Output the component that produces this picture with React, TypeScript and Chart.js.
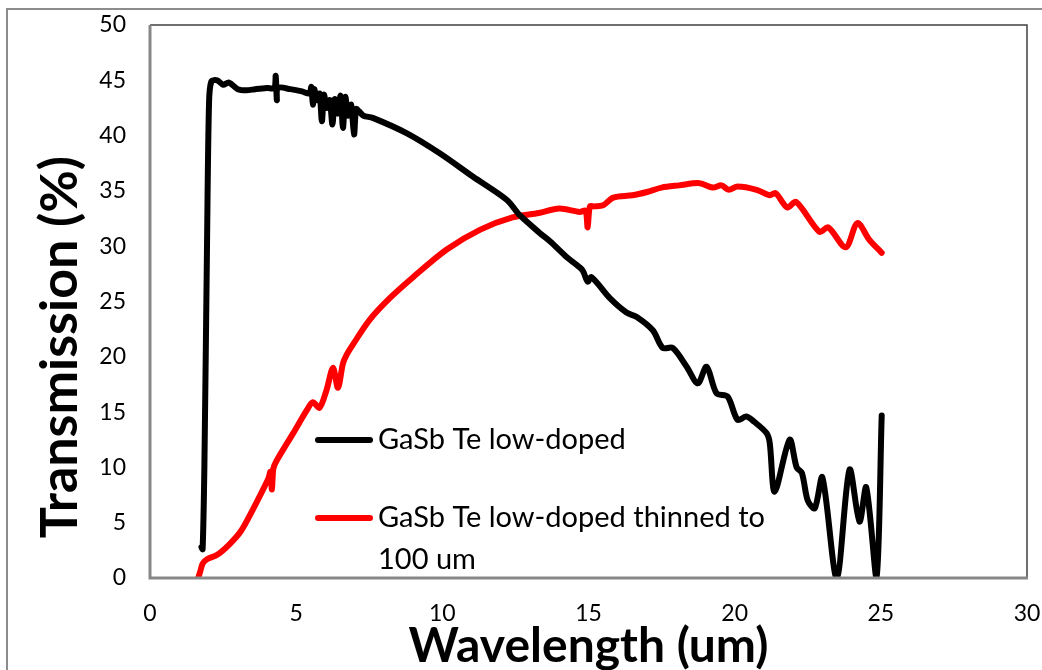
import React, { useEffect, useRef } from "react";
import { Chart, registerables } from "chart.js";

Chart.register(...registerables);

// ---- Data ----
const seriesNames = ["GaSb Te low-doped", "GaSb Te low-doped thinned to", "100 um"];

const lowDopedX = [
  1.76, 1.8, 1.86, 1.95, 2.02, 2.1, 2.3, 2.5, 2.7, 3.0, 3.3, 3.6, 4.0, 4.25, 4.3, 4.34, 4.38,
  4.8, 5.2, 5.45, 5.52, 5.57, 5.62, 5.7, 5.8, 5.88, 5.95, 6.05, 6.15, 6.24, 6.32, 6.42, 6.52,
  6.6, 6.68, 6.78, 6.88, 6.98, 7.05, 7.15, 7.3, 7.62, 8.79, 9.91, 11.04, 12.2, 12.65, 13.33,
  13.7, 14.26, 14.5, 14.8, 14.97, 15.1, 15.73, 16.3, 16.65, 17.2, 17.54, 17.88, 18.36, 18.74,
  19.04, 19.38, 19.76, 20.1, 20.4, 20.68, 21.09, 21.2, 21.37, 21.88, 22.12, 22.3, 22.5, 22.74,
  23.0, 23.49, 23.93, 24.27, 24.5, 24.85, 25.03,
];
const lowDopedY = [
  2.8, 2.6, 10, 30, 43, 44.9, 45.0, 44.6, 44.8, 44.2, 44.1, 44.2, 44.3, 44.3, 45.4, 43.2, 44.3,
  44.2, 44.0, 43.8, 44.4, 42.8, 44.2, 43.2, 43.8, 41.3, 43.7, 42.5, 43.2, 41.0, 43.3, 42.0, 43.6,
  40.7, 43.5, 41.8, 42.8, 40.1, 42.4, 42.2, 41.8, 41.6, 40.2, 38.4, 36.3, 34.2, 32.8, 31.2,
  30.4, 29.0, 28.5, 27.8, 26.8, 27.2, 25.3, 24.0, 23.6, 22.4, 20.8, 20.8, 19.1, 17.6,
  19.1, 16.7, 16.4, 14.3, 14.6, 14.1, 13.1, 12.2, 7.8, 12.5, 10.0, 9.5, 7.0, 6.3,
  9.1, 0, 9.8, 5.1, 8.2, 0, 14.7,
];

const thinnedX = [
  1.65, 1.72, 1.8, 1.95, 2.3, 2.7, 3.1, 3.5, 4.05, 4.12, 4.17, 4.22, 4.33, 4.9, 5.37, 5.57, 5.8,
  6.04, 6.26, 6.43, 6.6, 6.73, 6.94, 7.5, 8.2, 9.0, 10.15, 11.3, 12.4, 13.3, 14.0, 14.7, 14.9,
  14.97, 15.05, 15.2, 15.5, 15.85, 16.5, 17.0, 17.5, 18.1, 18.8, 19.25, 19.55, 19.8, 20.1, 20.75,
  21.2, 21.4, 21.8, 22.1, 22.9, 23.2, 23.8, 24.2, 24.6, 25.03,
];
const thinnedY = [
  0, 0.6, 1.3, 1.7, 2.1, 3.0, 4.2, 6.1, 9.0, 9.6, 8.0, 9.9, 10.6, 13.1, 15.2, 15.9, 15.4,
  17.0, 19.0, 17.2, 19.4, 20.2, 21.1, 23.3, 25.3, 27.2, 29.7, 31.5, 32.6, 33.0, 33.4, 33.1, 33.2,
  31.7, 33.6, 33.6, 33.7, 34.4, 34.6, 34.9, 35.3, 35.5, 35.7, 35.3, 35.5, 35.1, 35.4, 35.1,
  34.6, 34.8, 33.5, 34.0, 31.3, 31.7, 29.9, 32.1, 30.6, 29.4,
];

const xMin = 0, xMax = 30, xStep = 5;
const yMin = 0, yMax = 50, yStep = 5;
const xTitle = "Wavelength (um)";
const yTitle = "Transmission (%)";

const FONT = "Lato, 'Open Sans', sans-serif";

const decorPlugin = {
  id: "decor",
  beforeDraw(chart: any) {
    const ctx = chart.ctx;
    ctx.save();
    ctx.fillStyle = "#ffffff";
    ctx.fillRect(0, 0, chart.width, chart.height);
    ctx.strokeStyle = "#8c8c8c";
    ctx.lineWidth = 2;
    ctx.strokeRect(7, 9, chart.width + 20, chart.height + 20);
    ctx.restore();
  },
  afterDatasetsDraw(chart: any) {
    const ctx = chart.ctx;
    const a = chart.chartArea;
    ctx.save();
    // plot area outline
    ctx.strokeStyle = "#404040";
    ctx.lineWidth = 1.5;
    ctx.beginPath();
    ctx.moveTo(a.left, a.top);
    ctx.lineTo(a.right, a.top);
    ctx.lineTo(a.right, a.bottom);
    ctx.stroke();
    // axes
    ctx.strokeStyle = "#878787";
    ctx.lineWidth = 3;
    ctx.beginPath();
    ctx.moveTo(a.left, a.top);
    ctx.lineTo(a.left, a.bottom);
    ctx.lineTo(a.right + 1, a.bottom);
    ctx.stroke();

    // legend
    const entries = [
      { color: "#000000", y: 440, lines: [seriesNames[0]] },
      { color: "#ff0000", y: 518, lines: [seriesNames[1], seriesNames[2]] },
    ];
    ctx.font = `29px ${FONT}`;
    ctx.textBaseline = "middle";
    ctx.textAlign = "left";
    for (const e of entries) {
      ctx.strokeStyle = e.color;
      ctx.lineWidth = 6;
      ctx.lineCap = "round";
      ctx.beginPath();
      ctx.moveTo(318, e.y);
      ctx.lineTo(370, e.y);
      ctx.stroke();
      ctx.fillStyle = "#000000";
      e.lines.forEach((t, i) => ctx.fillText(t, 378, e.y + i * 42));
    }

    // axis titles
    ctx.textAlign = "center";
    ctx.font = `bold 48px ${FONT}`;
    ctx.fillText(xTitle, (a.left + a.right) / 2, 647);
    ctx.font = `bold 52px ${FONT}`;
    ctx.translate(60, 347);
    ctx.rotate(-Math.PI / 2);
    ctx.fillText(yTitle, 0, 0);
    ctx.restore();
  },
};

const noPad = (s: any) => {
  s.paddingLeft = 0;
  s.paddingRight = 0;
  s.paddingTop = 0;
  s.paddingBottom = 0;
};

export default function App() {
  const ref = useRef<HTMLCanvasElement>(null);
  useEffect(() => {
    const canvas = ref.current!;
    const chart = new Chart(canvas, {
      type: "line",
      data: {
        datasets: [
          {
            label: seriesNames[0],
            data: lowDopedX.map((x, i) => ({ x, y: lowDopedY[i] })),
            borderColor: "#000000",
            borderWidth: 6,
            pointRadius: 0,
            tension: 0.3,
            borderCapStyle: "round",
            borderJoinStyle: "round",
          },
          {
            label: seriesNames[1] + " " + seriesNames[2],
            data: thinnedX.map((x, i) => ({ x, y: thinnedY[i] })),
            borderColor: "#ff0000",
            borderWidth: 6,
            pointRadius: 0,
            tension: 0.3,
            borderCapStyle: "round",
            borderJoinStyle: "round",
          },
        ],
      },
      options: {
        animation: false,
        responsive: false,
        layout: { padding: { left: 0, top: 25, right: 15, bottom: 0 } },
        plugins: { legend: { display: false }, tooltip: { enabled: false } },
        scales: {
          x: {
            type: "linear",
            min: xMin,
            max: xMax,
            ticks: { stepSize: xStep, color: "#000", font: { family: FONT, size: 23 }, padding: 22 },
            grid: { display: false, drawTicks: false },
            border: { display: false },
            afterFit: (s: any) => { s.height = 92; noPad(s); },
          },
          y: {
            type: "linear",
            min: yMin,
            max: yMax,
            ticks: { stepSize: yStep, color: "#000", font: { family: FONT, size: 23 }, padding: 24 },
            grid: { display: false, drawTicks: false },
            border: { display: false },
            afterFit: (s: any) => { s.width = 150; noPad(s); },
          },
        },
      },
      plugins: [decorPlugin],
    } as any);
    return () => chart.destroy();
  }, []);
  return (
    <div style={{ position: "absolute", left: 0, top: 0, width: 1042, height: 670, background: "#fff" }}>
      <canvas ref={ref} width={1042} height={670} style={{ display: "block" }} />
    </div>
  );
}
